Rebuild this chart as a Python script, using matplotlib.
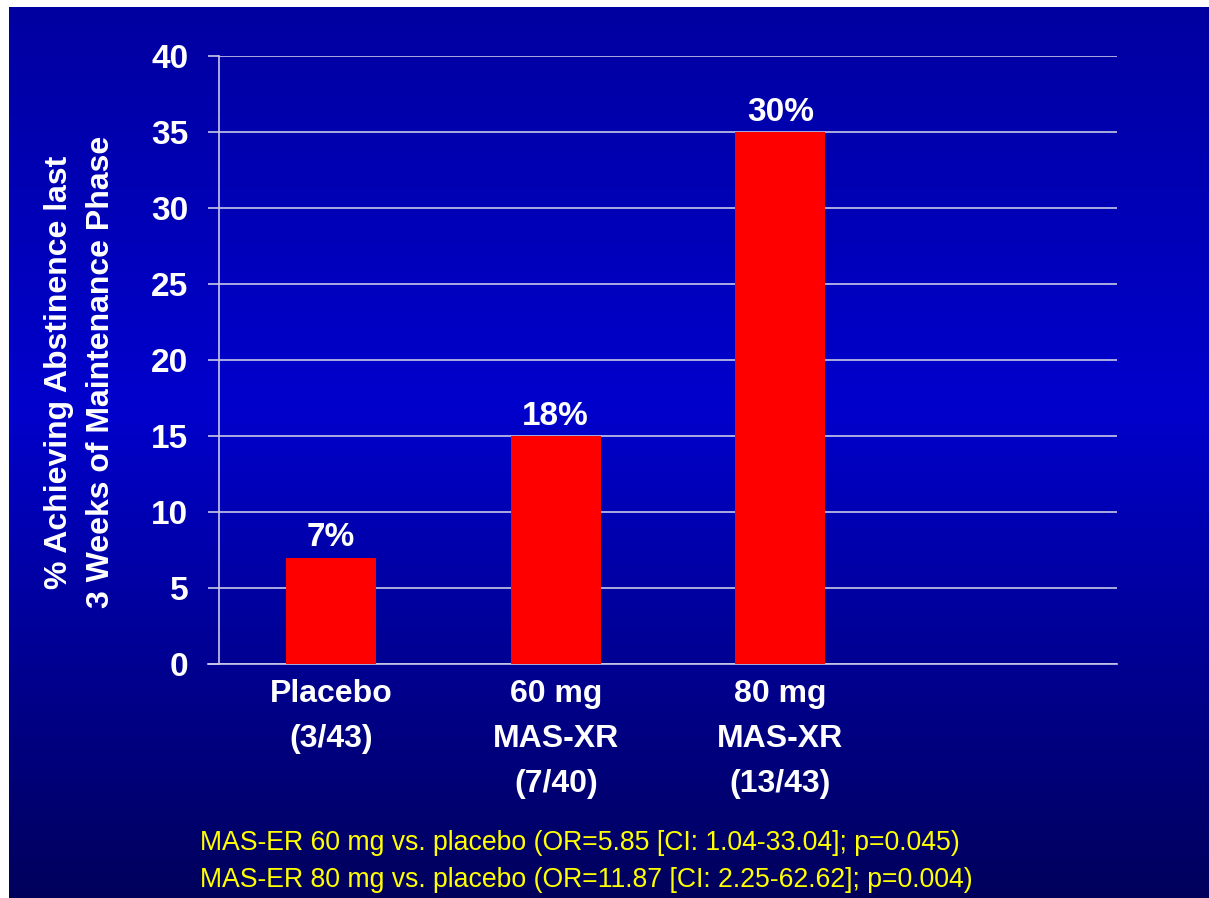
import numpy as np
import matplotlib
matplotlib.use('Agg')
import matplotlib.pyplot as plt
from matplotlib.colors import LinearSegmentedColormap

# Data
groups = ['Placebo\n(3/43)', '60 mg\nMAS-XR\n(7/40)', '80 mg\nMAS-XR\n(13/43)']
values = [7, 15, 35]
bar_labels = ['7%', '18%', '30%']
notes = ['MAS-ER 60 mg vs. placebo (OR=5.85 [CI: 1.04-33.04]; p=0.045)',
         'MAS-ER 80 mg vs. placebo (OR=11.87 [CI: 2.25-62.62]; p=0.004)']

plt.rcParams['font.family'] = ['Liberation Sans', 'DejaVu Sans']

fig = plt.figure(figsize=(12.09, 8.98), dpi=100, facecolor='white')

# blue gradient background (slide style), with thin white strip top/left
bg = fig.add_axes([9 / 1209, 0, 1 - 9 / 1209, 1 - 7 / 898])
cmap = LinearSegmentedColormap.from_list('slide', [(0, (0, 0, 0.36)), (0.55, (0, 0, 0.80)),
                                                    (1, (0, 0, 0.63))])
grad = np.linspace(0, 1, 256).reshape(-1, 1)
bg.imshow(grad, aspect='auto', cmap=cmap, origin='lower', extent=[0, 1, 0, 1])
bg.axis('off')

ax = fig.add_axes([219 / 1209, 1 - 664 / 898, 898 / 1209, 608 / 898])
ax.patch.set_visible(False)

x = np.arange(len(values))
grid_col = '#c8c8e8'
ax.set_ylim(0, 40)
ax.set_xlim(-0.5, 3.5)
ax.set_yticks(range(0, 41, 5))
ax.yaxis.grid(True, color=grid_col, linewidth=1.2)
ax.set_axisbelow(True)

bars = ax.bar(x, values, width=0.4, color='#ff0000', zorder=3)
for b, lab in zip(bars, bar_labels):
    ax.annotate(lab, (b.get_x() + b.get_width() / 2, b.get_height()),
                xytext=(0, 3), textcoords='offset points', ha='center', va='bottom',
                color='white', fontsize=24, fontweight='bold')

ax.set_xticks(x)
ax.set_xticklabels(groups, linespacing=1.65)
ax.tick_params(axis='x', length=0, pad=11, labelsize=23, labelcolor='white')
ax.tick_params(axis='y', length=8, width=1.2, color=grid_col, pad=14,
               labelsize=24, labelcolor='white')
for t in ax.get_xticklabels() + ax.get_yticklabels():
    t.set_fontweight('bold')

for s in ['top', 'right']:
    ax.spines[s].set_visible(False)
ax.spines['left'].set_color(grid_col)
ax.spines['left'].set_linewidth(1.2)
ax.spines['bottom'].set_color(grid_col)
ax.spines['bottom'].set_linewidth(1.2)
ax.spines['bottom'].set_bounds(-0.5 - 11 / 224, 3.5)

ax.set_ylabel('% Achieving Abstinence last\n3 Weeks of Maintenance Phase',
              color='white', fontsize=23, fontweight='bold', linespacing=1.5, va='center')
ax.yaxis.set_label_coords(-0.155, 0.48)

fig.text(200 / 1209, 1 - 843 / 898, notes[0], color='#ffff00', fontsize=19.2, va='center')
fig.text(200 / 1209, 1 - 880 / 898, notes[1], color='#ffff00', fontsize=19.2, va='center')

fig.savefig('out.png', dpi=100, facecolor=fig.get_facecolor())
